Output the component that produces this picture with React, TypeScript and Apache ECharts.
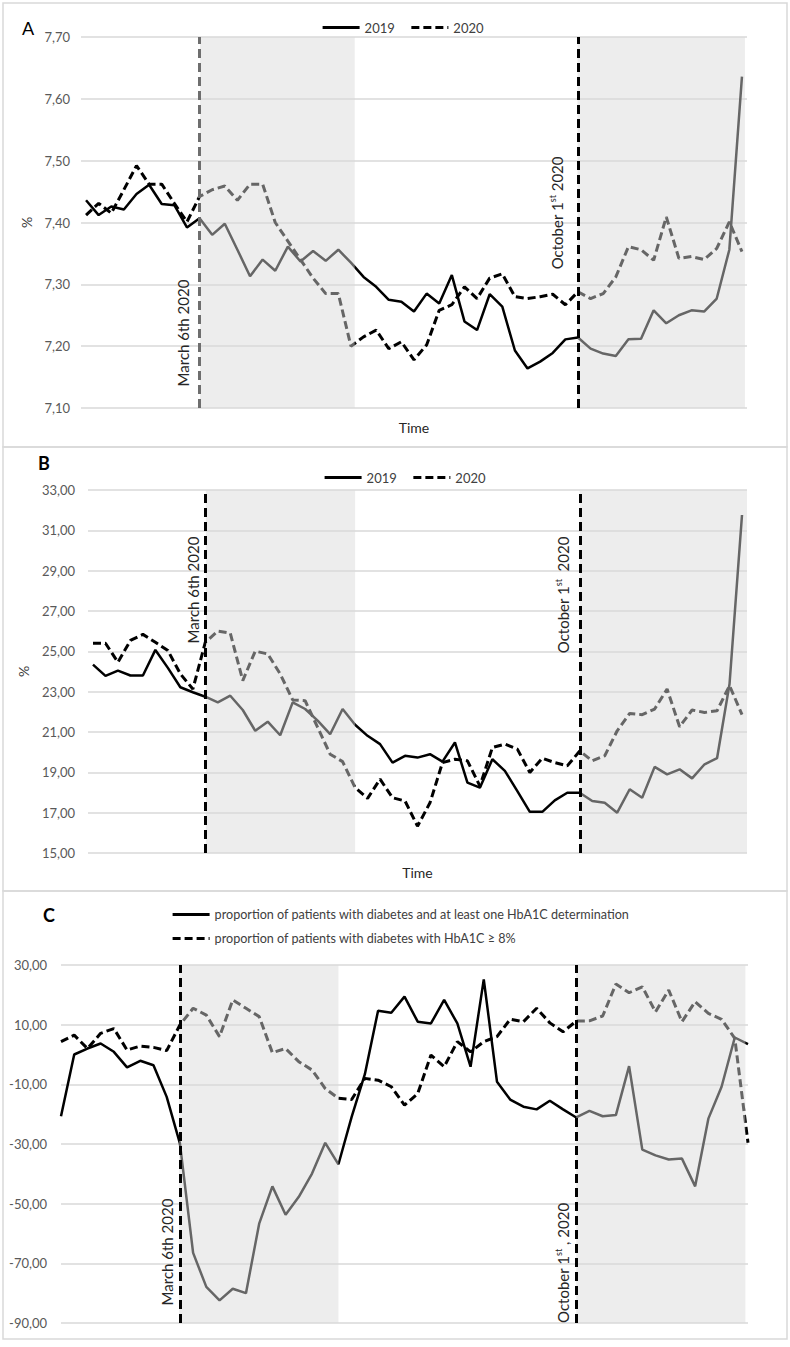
import React, { useEffect, useRef } from "react";
import * as echarts from "echarts";

// ---------- DATA ----------
const weeks: number[] = Array.from({ length: 53 }, (_, i) => i);

// Panel A: mean HbA1c (%)
const a2019: number[] = [
  7.436, 7.412, 7.426, 7.421, 7.446, 7.461, 7.43, 7.428, 7.392, 7.407,
  7.38, 7.398, 7.356, 7.313, 7.34, 7.322, 7.361, 7.337, 7.354, 7.338,
  7.356, 7.335, 7.312, 7.296, 7.275, 7.272, 7.256, 7.285, 7.269, 7.315,
  7.24, 7.226, 7.284, 7.264, 7.193, 7.164, 7.175, 7.189, 7.211, 7.214,
  7.196, 7.188, 7.184, 7.211, 7.212, 7.258, 7.237, 7.25, 7.258, 7.256,
  7.277, 7.356, 7.636,
];
const a2020: number[] = [
  7.412, 7.431, 7.415, 7.453, 7.492, 7.462, 7.462, 7.431, 7.401, 7.442,
  7.453, 7.459, 7.436, 7.462, 7.462, 7.4, 7.37, 7.34, 7.31, 7.285,
  7.285, 7.2, 7.215, 7.226, 7.196, 7.207, 7.178, 7.202, 7.258, 7.267,
  7.296, 7.277, 7.31, 7.317, 7.28, 7.277, 7.28, 7.284, 7.267, 7.288,
  7.277, 7.285, 7.312, 7.361, 7.356, 7.339, 7.409, 7.342, 7.345, 7.34,
  7.358, 7.401, 7.353,
];

// Panel B: % of patients with HbA1c >= 8%
const b2019: number[] = [
  24.34, 23.78, 24.04, 23.8, 23.8, 25.07, 24.18, 23.22, 22.97, 22.75,
  22.47, 22.8, 22.09, 21.06, 21.51, 20.84, 22.47, 22.14, 21.56, 20.89,
  22.14, 21.36, 20.81, 20.4, 19.48, 19.82, 19.73, 19.9, 19.53, 20.48,
  18.49, 18.24, 19.65, 19.07, 18.07, 17.04, 17.04, 17.61, 17.99, 17.99,
  17.58, 17.49, 17.0, 18.16, 17.74, 19.27, 18.9, 19.15, 18.7, 19.4,
  19.7, 23.38, 31.76,
];
const b2020: number[] = [
  25.4, 25.4, 24.46, 25.54, 25.84, 25.45, 25.04, 23.88, 23.13, 25.45,
  26.0, 25.9, 23.55, 25.01, 24.87, 23.88, 22.59, 22.55, 21.23, 19.9,
  19.53, 18.24, 17.71, 18.66, 17.74, 17.58, 16.33, 17.49, 19.48, 19.65,
  19.57, 18.32, 20.23, 20.4, 20.15, 18.99, 19.7, 19.48, 19.32, 20.06,
  19.57, 19.82, 21.06, 21.92, 21.86, 22.14, 23.13, 21.26, 22.09, 21.97,
  22.05, 23.3, 21.86,
];

// Panel C: relative change (%)
const cAtLeastOne: number[] = [
  -20.7, 0.0, 2.0, 3.7, 0.9, -4.3, -2.1, -3.6, -14.2, -29.8,
  -66.5, -77.9, -82.4, -78.5, -80.0, -56.7, -44.2, -53.7, -47.7, -39.9,
  -29.6, -36.8, -20.9, -6.6, 14.7, 14.0, 19.4, 11.0, 10.4, 18.3,
  10.4, -4.1, 25.2, -9.1, -15.1, -17.5, -18.4, -15.5, -18.4, -21.1,
  -18.9, -20.7, -20.3, -3.9, -31.9, -33.8, -35.2, -34.9, -44.2, -21.5,
  -10.8, 5.7, 3.5,
];
const cAbove8: number[] = [
  4.3, 6.5, 2.0, 7.1, 8.7, 1.5, 2.8, 2.4, 1.3, 9.9,
  15.5, 13.2, 6.0, 18.3, 15.5, 12.7, 0.6, 2.0, -2.4, -5.2,
  -11.4, -14.7, -15.1, -8.0, -8.6, -10.8, -17.0, -13.1, -0.2, -4.1,
  4.3, 0.9, 4.3, 6.0, 11.8, 11.0, 15.5, 10.6, 7.6, 11.2,
  11.3, 12.9, 23.6, 20.7, 22.7, 14.3, 21.6, 11.0, 17.7, 13.8,
  11.8, 5.4, -29.6,
];

// Event markers (week index) and shaded periods (week index ranges)
const eventWeeks: number[] = [9, 39];
const shadeA: number[][] = [[9.04, 21.3], [38.96, 52.24]];
const shadeB: number[][] = [[9.05, 21.0], [39.0, 52.4]];
const shadeC: number[][] = [[8.94, 21.0], [39.0, 51.8]];

const legendYears: string[] = ["2019", "2020"];
const legendC: string[] = [
  "proportion of patients with diabetes and at least one HbA1C determination",
  "proportion of patients with diabetes with HbA1C \u2265 8%",
];

// ---------- STYLE ----------
const FONT = "Lato, 'Open Sans', sans-serif";
const GRID_COLOR = "#d9d9d9";
const LABEL_COLOR = "#595959";
const OVERLAY = "rgba(216,216,216,0.47)";

const fmt = (v: number) => v.toFixed(2).replace(".", ",");

function pairs(arr: number[]) {
  return weeks.map((w, i) => [w, arr[i]]);
}

function lineSeries(name: string, arr: number[], idx: number, dashed: boolean) {
  return {
    type: "line",
    name,
    xAxisIndex: idx,
    yAxisIndex: idx,
    data: pairs(arr),
    symbol: "none",
    showSymbol: false,
    z: 3,
    lineStyle: {
      color: "#000",
      width: dashed ? 3 : 2.5,
      type: dashed ? [8, 4] : "solid",
      cap: "butt",
    },
    itemStyle: { color: "#000" },
  };
}

function shadeSeries(idx: number, ranges: number[][]) {
  return {
    type: "line",
    xAxisIndex: idx,
    yAxisIndex: idx,
    data: [],
    silent: true,
    z: 10,
    markArea: {
      silent: true,
      z: 10,
      itemStyle: { color: OVERLAY },
      data: ranges.map((r) => [{ xAxis: r[0] }, { xAxis: r[1] }]),
    },
  };
}

function eventSeries(idx: number, firstColor: string) {
  return {
    type: "line",
    xAxisIndex: idx,
    yAxisIndex: idx,
    data: [],
    silent: true,
    z: 20,
    markLine: {
      silent: true,
      z: 20,
      symbol: ["none", "none"],
      label: { show: false },
      lineStyle: { color: "#000", width: 3, type: [9, 5] },
      data: eventWeeks.map((w, i) => ({
        xAxis: w,
        lineStyle: { color: i === 0 ? firstColor : "#000", width: 3, type: [9, 5] },
      })),
    },
  };
}

function yAxis(idx: number, min: number, max: number, interval: number, margin: number, name?: string, nameGap?: number) {
  return {
    type: "value",
    gridIndex: idx,
    min,
    max,
    interval,
    name: name || "",
    nameLocation: "middle",
    nameGap: nameGap || 0,
    nameTextStyle: { fontFamily: FONT, fontSize: 14, color: "#404040" },
    axisLine: { show: false },
    axisTick: { show: false },
    axisLabel: { formatter: fmt, fontFamily: FONT, fontSize: 13, color: LABEL_COLOR, margin },
    splitLine: { show: true, lineStyle: { color: GRID_COLOR, width: 1.5 } },
  };
}

function xAxis(idx: number, min: number, max: number, name?: string) {
  return {
    type: "value",
    gridIndex: idx,
    min,
    max,
    name: name || "",
    nameLocation: "middle",
    nameGap: 12,
    nameTextStyle: { fontFamily: FONT, fontSize: 14, color: "#262626" },
    axisLine: { show: false },
    axisTick: { show: false },
    axisLabel: { show: false },
    splitLine: { show: false },
  };
}

function vText(x: number, y: number, text: string) {
  return {
    type: "text",
    x,
    y,
    rotation: Math.PI / 2,
    z: 50,
    style: {
      text,
      fill: "#262626",
      fontFamily: FONT,
      fontSize: 15,
      align: "center",
      verticalAlign: "middle",
    },
  };
}

function vRich(x: number, y: number, before: string, after: string) {
  return {
    type: "text",
    x,
    y,
    rotation: Math.PI / 2,
    z: 50,
    style: {
      text: `{n|${before}}{s|st}{n|${after}}`,
      align: "center",
      verticalAlign: "middle",
      rich: {
        n: { fill: "#262626", fontFamily: FONT, fontSize: 15, lineHeight: 18 },
        s: { fill: "#262626", fontFamily: FONT, fontSize: 9, lineHeight: 10, verticalAlign: "top" },
      },
    },
  };
}

function frame(y: number, h: number) {
  return {
    type: "rect",
    shape: { x: 3, y, width: 784, height: h },
    style: { fill: "none", stroke: GRID_COLOR, lineWidth: 1.5 },
    z: 0,
    silent: true,
  };
}

function panelLabel(x: number, y: number, t: string, bold: boolean) {
  return {
    type: "text",
    x,
    y,
    style: {
      text: t,
      fill: "#000",
      fontFamily: FONT,
      fontSize: 18,
      fontWeight: bold ? "bold" : "normal",
      align: "left",
      verticalAlign: "middle",
    },
  };
}

export default function App() {
  const ref = useRef<HTMLDivElement | null>(null);

  useEffect(() => {
    if (!ref.current) return;
    const chart = echarts.init(ref.current, undefined, { renderer: "svg" });

    const legendCommon = {
      itemWidth: 37,
      itemHeight: 14,
      itemStyle: { opacity: 0 },
      lineStyle: { width: 3.2, type: "inherit", color: "#000" },
      textStyle: { fontFamily: FONT, fontSize: 13, color: "#404040" },
      selectedMode: false,
    };

    const option: any = {
      animation: false,
      backgroundColor: "#fff",
      grid: [
        { left: 81, top: 37, width: 666, height: 371 },
        { left: 88, top: 490, width: 659, height: 363 },
        { left: 61, top: 965, width: 687, height: 358 },
      ],
      xAxis: [
        xAxis(0, -0.4, 52.4, "Time"),
        xAxis(1, -0.4, 52.4, "Time"),
        xAxis(2, 0, 52),
      ],
      yAxis: [
        yAxis(0, 7.1, 7.7, 0.1, 11, "%", 41),
        yAxis(1, 15, 33, 2, 13, "%", 48),
        yAxis(2, -90, 30, 20, 14),
      ],
      legend: [
        { ...legendCommon, data: legendYears, left: 316, top: 16, itemGap: 15 },
        { ...legendCommon, data: legendYears, left: 318, top: 466, itemGap: 15 },
        {
          ...legendCommon,
          textStyle: { fontFamily: FONT, fontSize: 12.6, color: "#404040" },
          data: legendC,
          orient: "vertical",
          left: 166,
          top: 903,
          itemGap: 11,
        },
      ],
      series: [
        lineSeries(legendYears[0], a2019, 0, false),
        lineSeries(legendYears[1], a2020, 0, true),
        shadeSeries(0, shadeA),
        eventSeries(0, "#6e6e6e"),
        lineSeries(legendYears[0], b2019, 1, false),
        lineSeries(legendYears[1], b2020, 1, true),
        shadeSeries(1, shadeB),
        eventSeries(1, "#000"),
        lineSeries(legendC[0], cAtLeastOne, 2, false),
        lineSeries(legendC[1], cAbove8, 2, true),
        shadeSeries(2, shadeC),
        eventSeries(2, "#000"),
      ],
      graphic: [
        frame(3, 444),
        frame(447, 444),
        frame(891, 448),
        panelLabel(22, 28, "A", false),
        panelLabel(38, 463, "B", true),
        panelLabel(43, 915, "C", true),
        vText(183, 333, "March 6th 2020"),
        vRich(557, 213, "October 1", " 2020"),
        vText(193, 590, "March 6th 2020"),
        vRich(563, 595, "October 1", "  2020"),
        vText(167, 1252, "March 6th 2020"),
        vRich(563, 1263, "October 1", " , 2020"),
      ],
    };

    chart.setOption(option);
    return () => chart.dispose();
  }, []);

  return (
    <div
      style={{ position: "absolute", left: 0, top: 0, width: 790, height: 1347, background: "#fff" }}
    >
      <div ref={ref} style={{ width: 790, height: 1347 }} />
    </div>
  );
}
